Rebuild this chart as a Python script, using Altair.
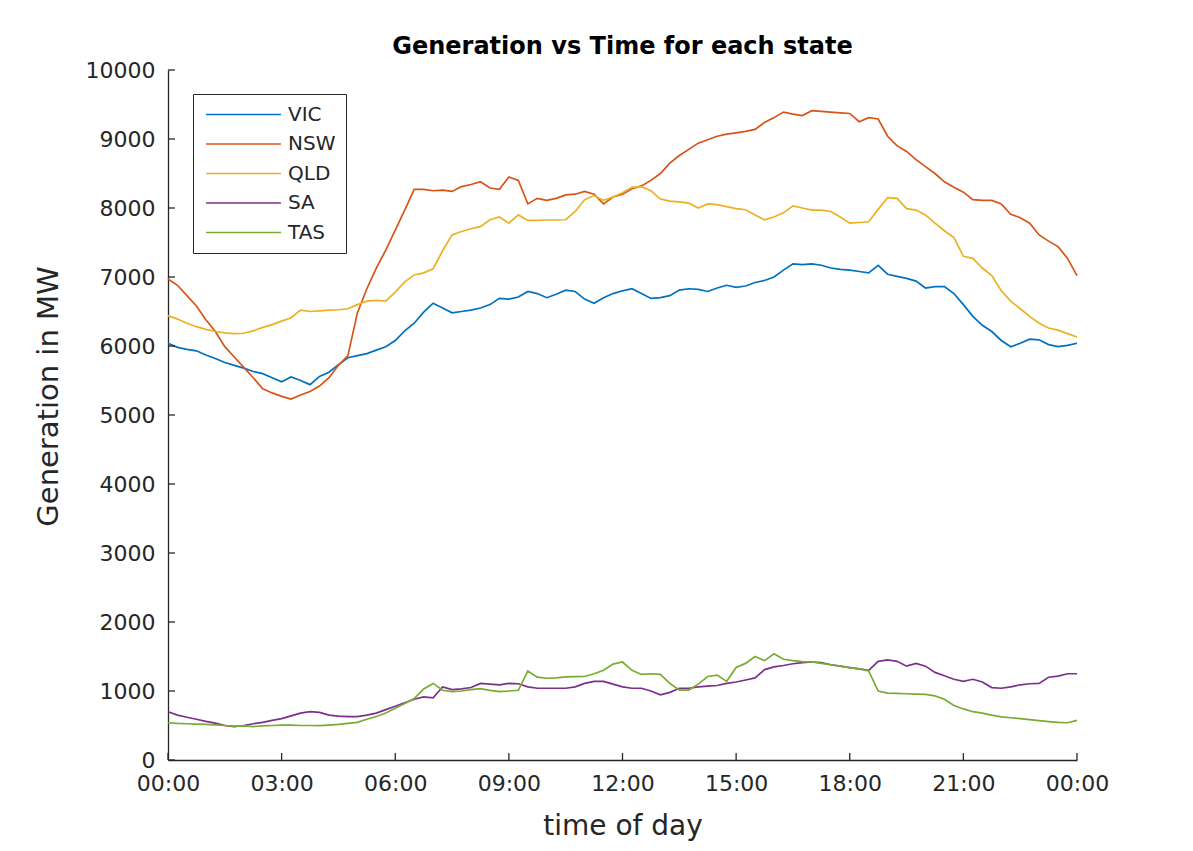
import altair as alt
import pandas as pd

FONT = "DejaVu Sans"
INK = "#262626"

STATES = ["VIC", "NSW", "QLD", "SA", "TAS"]
COLORS = ["#0072BD", "#D95319", "#EDB120", "#7E2F8E", "#77AC30"]

# time of day in hours, 15-minute samples from 00:00 to 24:00
HOURS = [i * 0.25 for i in range(97)]

VIC = [6040, 5980, 5950, 5930, 5870, 5820, 5760, 5720, 5680, 5630, 5600, 5540,
       5480, 5550, 5500, 5440, 5560, 5620, 5730, 5830, 5860, 5890, 5940, 5990,
       6080, 6220, 6330, 6490, 6620, 6550, 6480, 6500, 6520, 6550, 6600, 6690,
       6680, 6710, 6790, 6760, 6700, 6750, 6810, 6790, 6680, 6620, 6700, 6760,
       6800, 6830, 6760, 6690, 6700, 6730, 6810, 6830, 6820, 6790, 6840, 6880,
       6850, 6870, 6920, 6950, 7000, 7100, 7190, 7180, 7190, 7170, 7130, 7110,
       7100, 7080, 7060, 7170, 7040, 7010, 6980, 6940, 6840, 6860, 6860, 6760,
       6600, 6430, 6300, 6210, 6080, 5990, 6040, 6100, 6090, 6020, 5990, 6010,
       6040]

NSW = [6970, 6880, 6730, 6580, 6380, 6210, 5990, 5840, 5690, 5540, 5380, 5320,
       5270, 5230, 5290, 5340, 5420, 5540, 5720, 5860, 6480, 6830, 7130, 7390,
       7680, 7970, 8270, 8270, 8250, 8260, 8240, 8310, 8340, 8380, 8290, 8270,
       8450, 8400, 8060, 8140, 8110, 8140, 8190, 8200, 8240, 8200, 8060, 8160,
       8200, 8280, 8320, 8400, 8500, 8650, 8760, 8850, 8940, 8990, 9040, 9070,
       9090, 9110, 9140, 9240, 9310, 9390, 9360, 9340, 9410, 9400, 9390, 9380,
       9370, 9250, 9310, 9290, 9040, 8900, 8820, 8700, 8600, 8500, 8380, 8300,
       8230, 8120, 8110, 8110, 8060, 7910, 7860, 7780, 7610, 7520, 7440, 7270,
       7020]

QLD = [6440, 6390, 6330, 6280, 6240, 6210, 6190, 6180, 6185, 6220, 6270, 6310,
       6360, 6410, 6520, 6500, 6510, 6520, 6525, 6540, 6600, 6650, 6660, 6650,
       6780, 6930, 7030, 7060, 7120, 7380, 7610, 7660, 7700, 7730, 7830, 7870,
       7780, 7900, 7820, 7820, 7826, 7826, 7830, 7950, 8120, 8180, 8110, 8160,
       8220, 8300, 8310, 8250, 8130, 8100, 8090, 8070, 8000, 8060, 8050, 8020,
       7990, 7975, 7900, 7830, 7870, 7930, 8030, 8000, 7970, 7970, 7950, 7870,
       7780, 7790, 7800, 7980, 8150, 8140, 7990, 7970, 7900, 7780, 7670, 7570,
       7300, 7270, 7130, 7020, 6800, 6650, 6540, 6430, 6330, 6260, 6230, 6180,
       6130]

SA = [700, 650, 620, 590, 560, 535, 500, 485, 500, 525, 545, 575,
      600, 640, 680, 700, 690, 650, 635, 628, 630, 650, 680, 730,
      780, 830, 880, 915, 900, 1060, 1020, 1030, 1050, 1110, 1100, 1090,
      1110, 1105, 1060, 1040, 1040, 1040, 1040, 1060, 1110, 1140, 1140, 1100,
      1060, 1040, 1040, 1000, 945, 980, 1039, 1040, 1060, 1070, 1080, 1110,
      1130, 1160, 1190, 1310, 1350, 1370, 1395, 1410, 1420, 1410, 1380, 1360,
      1340, 1320, 1300, 1430, 1450, 1430, 1360, 1400, 1360, 1270, 1220, 1170,
      1140, 1170, 1130, 1050, 1040, 1060, 1090, 1105, 1110, 1200, 1215, 1250,
      1250]

TAS = [540, 530, 525, 520, 515, 510, 500, 490, 495, 485, 495, 500,
       505, 505, 500, 500, 497, 505, 515, 530, 545, 590, 630, 680,
       750, 820, 890, 1030, 1110, 1010, 990, 1000, 1020, 1035, 1010, 990,
       1000, 1010, 1290, 1200, 1185, 1190, 1205, 1208, 1210, 1250, 1300, 1390,
       1420, 1300, 1240, 1250, 1240, 1110, 1014, 1014, 1100, 1210, 1230, 1140,
       1340, 1400, 1500, 1440, 1540, 1460, 1440, 1425, 1420, 1400, 1380, 1360,
       1340, 1320, 1290, 1000, 970, 965, 960, 955, 950, 930, 880, 790,
       740, 700, 680, 650, 625, 612, 600, 585, 570, 557, 545, 540,
       575]

Y_TICKS = [0, 1000, 2000, 3000, 4000, 5000, 6000, 7000, 8000, 9000, 10000]
X_TICKS = [0, 3, 6, 9, 12, 15, 18, 21, 24]

rows = []
for name, vals in zip(STATES, [VIC, NSW, QLD, SA, TAS]):
    for h, v in zip(HOURS, vals):
        rows.append({"state": name, "hour": h, "mw": v})
df = pd.DataFrame(rows)

W, H = 909, 690

xscale = alt.Scale(domain=[0, 24], nice=False, zero=False)
yscale = alt.Scale(domain=[0, 10000], nice=False)

x_axis = alt.Axis(values=X_TICKS, ticks=False, tickSize=0, grid=False,
                  labelExpr="pad(toString(datum.value % 24), 2, '0', 'left') + ':00'",
                  labelFlush=False, labelOverlap=False,
                  labelFont=FONT, labelFontSize=22, labelColor=INK, labelPadding=13,
                  domainColor=INK, domainWidth=1.3,
                  title="time of day", titleFont=FONT, titleFontSize=28,
                  titleFontWeight="normal", titleColor=INK,
                  titleX=W / 2, titleY=66, titleBaseline="middle")
y_axis = alt.Axis(values=Y_TICKS, format="d", ticks=False, tickSize=0, grid=False,
                  labelOverlap=False, labelFlush=False,
                  labelFont=FONT, labelFontSize=22, labelColor=INK, labelPadding=13,
                  domainColor=INK, domainWidth=1.3,
                  title="Generation in MW", titleFont=FONT, titleFontSize=29,
                  titleFontWeight="normal", titleColor=INK,
                  titleX=-120, titleY=326, titleAngle=-90,
                  titleBaseline="middle", titleAlign="center")

lines = alt.Chart(df).mark_line(strokeWidth=1.7).encode(
    x=alt.X("hour:Q", scale=xscale, axis=x_axis),
    y=alt.Y("mw:Q", scale=yscale, axis=y_axis),
    color=alt.Color("state:N", scale=alt.Scale(domain=STATES, range=COLORS),
                    legend=alt.Legend(title=None, orient="none", legendX=25, legendY=24,
                                      direction="vertical", symbolType="M-4,0H4",
                                      symbolSize=350, symbolStrokeWidth=1.7,
                                      symbolOffset=30,
                                      labelFont=FONT, labelFontSize=20, labelColor=INK,
                                      labelOffset=34, padding=10, rowPadding=8.5,
                                      strokeColor=INK, fillColor="white")),
)

ytick_df = pd.DataFrame({"mw": Y_TICKS})
xtick_df = pd.DataFrame({"hour": X_TICKS})

yticks = alt.Chart(ytick_df).mark_rule(color=INK, strokeWidth=1.3).encode(
    y=alt.Y("mw:Q", scale=yscale, axis=y_axis),
    x=alt.value(0), x2=alt.value(7),
)
xticks = alt.Chart(xtick_df).mark_rule(color=INK, strokeWidth=1.3).encode(
    x=alt.X("hour:Q", scale=xscale, axis=x_axis),
    y=alt.value(H), y2=alt.value(H - 7),
)

chart = alt.layer(lines, yticks, xticks).properties(
    width=W, height=H,
    title=alt.TitleParams(text="Generation vs Time for each state", font=FONT,
                          fontSize=24, fontWeight="bold", color="#000000",
                          anchor="middle", offset=0),
    autosize=alt.AutoSizeParams(type="none"),
    padding={"left": 160, "top": 62, "right": 100, "bottom": 88},
    background="white",
).configure_view(stroke=None)

chart.save("out.html", embed_options={"renderer": "svg", "actions": False})
